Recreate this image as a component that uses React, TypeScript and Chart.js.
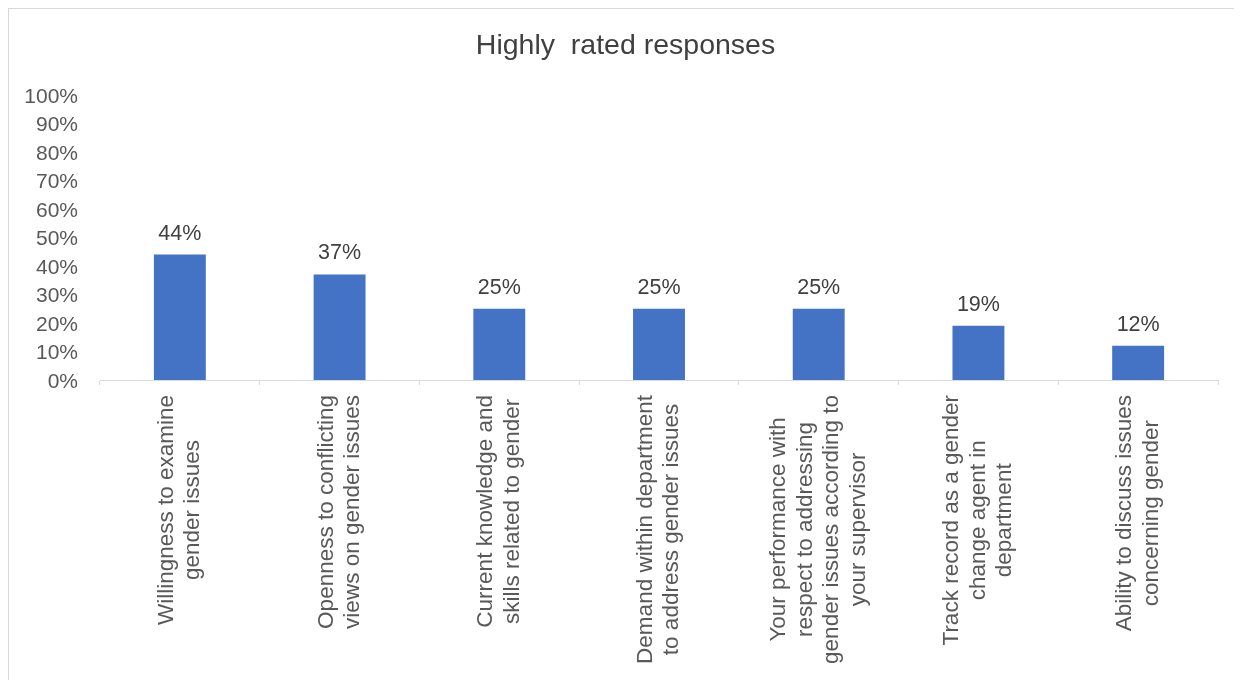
import React, { useEffect, useRef } from "react";
import { Chart, registerables } from "chart.js";

Chart.register(...registerables);

const titleText = "Highly  rated responses";
const categories: string[][] = [
  ["Willingness to examine", "gender issues"],
  ["Openness to conflicting", "views on gender issues"],
  ["Current knowledge and", "skills related to gender"],
  ["Demand within department", "to address gender issues"],
  ["Your performance with", "respect to addressing", "gender issues according to", "your supervisor"],
  ["Track record as a gender", "change agent in", "department"],
  ["Ability to discuss issues", "concerning gender"],
];
const values: number[] = [44, 37, 25, 25, 25, 19, 12];
const yMin = 0;
const yMax = 100;
const yStep = 10;

const FONT = "'Liberation Sans', Arial, sans-serif";
const TEXT = "#595959";
const DARK = "#404040";
const BAR = "#4472C4";
const AXIS = "#D9D9D9";

const labelPlugin = {
  id: "customLabels",
  afterDraw(chart: any) {
    const ctx = chart.ctx;
    const xScale = chart.scales.x;
    ctx.save();
    // title, centered on the whole canvas
    ctx.font = `28.5px ${FONT}`;
    ctx.fillStyle = DARK;
    ctx.textAlign = "center";
    ctx.textBaseline = "middle";
    ctx.fillText(titleText, chart.width / 2, 37);
    // category labels, rotated, centered lines
    ctx.font = `22.5px ${FONT}`;
    ctx.fillStyle = TEXT;
    const lh = 26.5;
    categories.forEach((lines, i) => {
      const x = xScale.getPixelForValue(i);
      const w = Math.max(...lines.map((l) => ctx.measureText(l).width));
      ctx.save();
      ctx.translate(x, xScale.top + 15 + w / 2);
      ctx.rotate(-Math.PI / 2);
      lines.forEach((line, j) => {
        ctx.fillText(line, 0, (j - (lines.length - 1) / 2) * lh);
      });
      ctx.restore();
    });
    // data labels
    ctx.font = `21.5px ${FONT}`;
    ctx.fillStyle = DARK;
    const meta = chart.getDatasetMeta(0);
    meta.data.forEach((el: any, i: number) => {
      ctx.fillText(`${values[i]}%`, el.x, el.y - 21);
    });
    ctx.restore();
  },
};

export default function App() {
  const ref = useRef<HTMLCanvasElement>(null);
  useEffect(() => {
    document.documentElement.style.overflow = "hidden";
    document.body.style.overflow = "hidden";
    const chart = new Chart(ref.current as HTMLCanvasElement, {
      type: "bar",
      data: {
        labels: categories.map((c) => c.join(" ")),
        datasets: [
          {
            data: values,
            backgroundColor: BAR,
            borderWidth: 0,
            categoryPercentage: 1,
            barPercentage: 0.325,
          },
        ],
      },
      options: {
        responsive: false,
        animation: false,
        layout: { padding: { left: 0, right: 24, top: 86, bottom: 0 } },
        plugins: {
          legend: { display: false },
          tooltip: { enabled: false },
          title: { display: false },
        },
        scales: {
          x: {
            offset: true,
            grid: {
              display: true,
              drawOnChartArea: false,
              drawTicks: true,
              tickLength: 5,
              color: AXIS,
              offset: true,
            },
            border: { display: true, color: AXIS, width: 1 },
            ticks: { display: false },
            afterFit: (scale: any) => {
              scale.height = 300;
            },
          },
          y: {
            min: yMin,
            max: yMax,
            grid: { display: false, drawTicks: false },
            border: { display: false },
            ticks: {
              stepSize: yStep,
              padding: 22,
              labelOffset: 2,
              color: TEXT,
              font: { family: FONT, size: 21 },
              callback: (v: any) => `${v}%`,
            },
            afterFit: (scale: any) => {
              scale.width = 91;
            },
          },
        },
      },
      plugins: [labelPlugin],
    });
    return () => chart.destroy();
  }, []);

  return (
    <div
      style={{
        width: 1233,
        height: 671,
        borderTop: "1px solid #D9D9D9",
        borderLeft: "1px solid #D9D9D9",
        background: "#fff",
      }}
    >
      <canvas ref={ref} width={1233} height={671} style={{ display: "block" }} />
    </div>
  );
}
